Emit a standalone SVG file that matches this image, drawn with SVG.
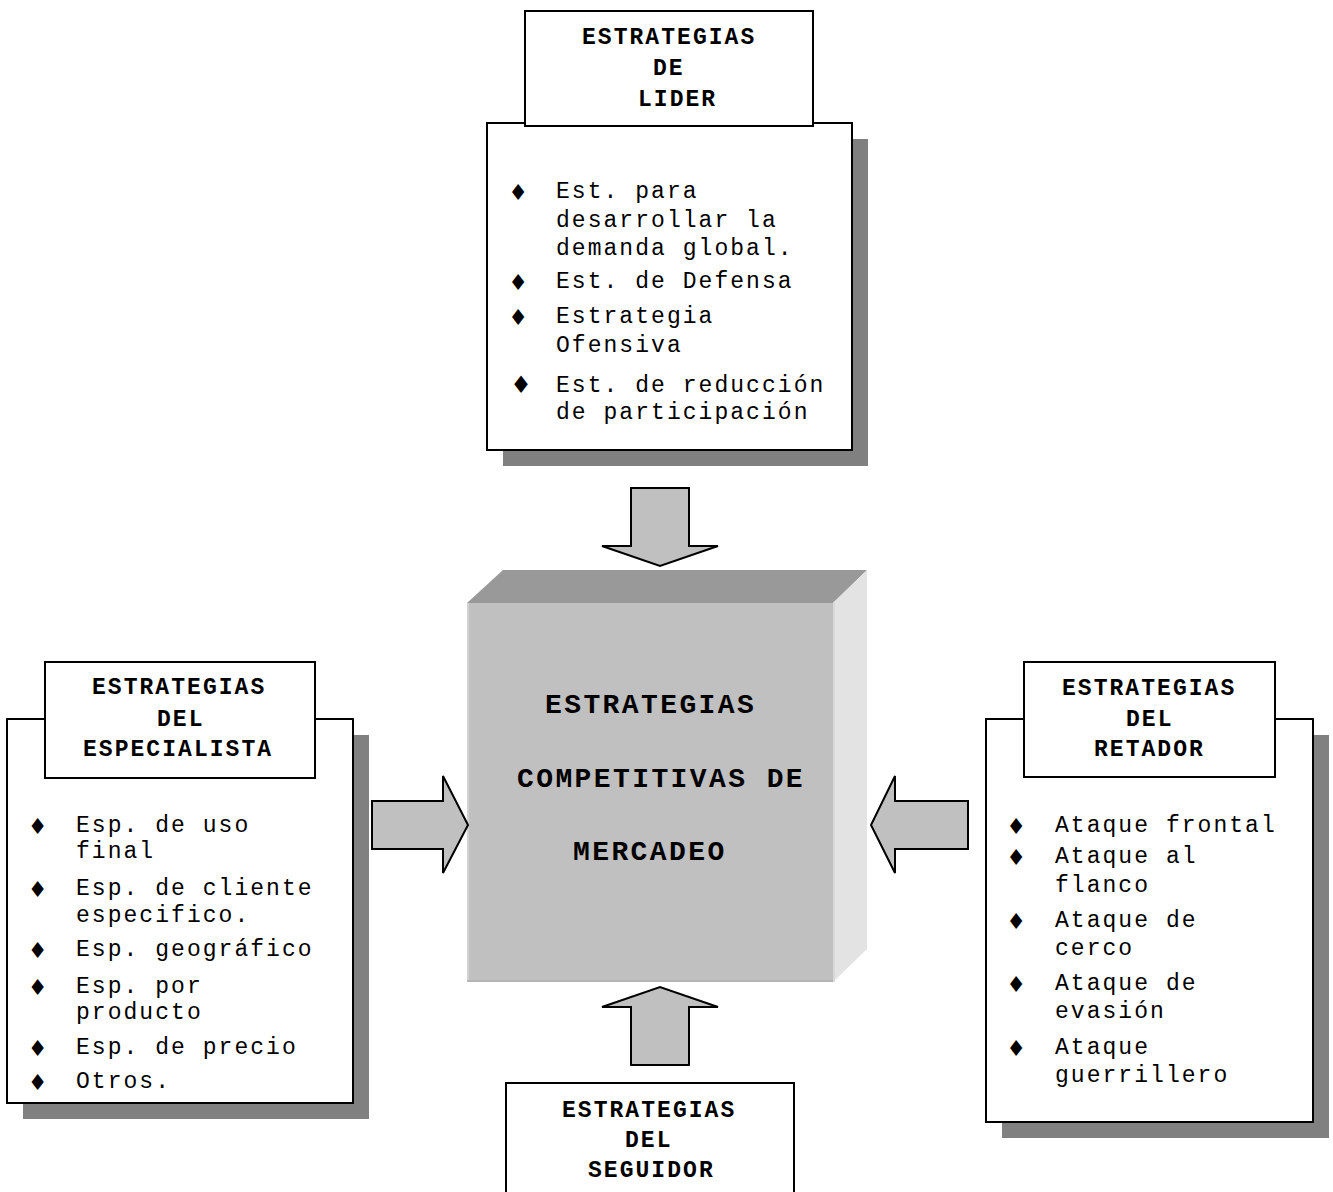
<svg xmlns="http://www.w3.org/2000/svg" width="1333" height="1192" viewBox="0 0 1333 1192">
<style>
.box{fill:#ffffff;stroke:#000000;stroke-width:2}
.shadow{fill:#808080}
.ttl{font-family:"Liberation Mono","Courier New",monospace;font-weight:bold;font-size:23px;letter-spacing:2.04px;fill:#000}
.txt{font-family:"Liberation Mono","Courier New",monospace;font-size:23px;letter-spacing:2.04px;fill:#000}
.big{font-family:"Liberation Mono","Courier New",monospace;font-weight:bold;font-size:28px;letter-spacing:2.4px;fill:#000}
.bul{font-family:"DejaVu Sans",sans-serif;font-size:22px;fill:#000;text-anchor:middle}
.arrow{fill:#c0c0c0;stroke:#000000;stroke-width:2;stroke-linejoin:miter}
</style>
<rect width="1333" height="1192" fill="#ffffff"/>

<g id="lider">
  <rect class="shadow" x="503" y="139" width="365" height="327"/>
  <rect class="box" x="487" y="123" width="365" height="327"/>
  <rect class="box" x="525" y="11" width="288" height="115"/>
  <text class="ttl" x="582" y="44">ESTRATEGIAS</text>
  <text class="ttl" x="653" y="75">DE</text>
  <text class="ttl" x="638" y="106">LIDER</text>
  <text class="bul" x="518" y="200">♦</text>
  <text class="txt" x="556" y="198">Est. para</text>
  <text class="txt" x="556" y="227">desarrollar la</text>
  <text class="txt" x="556" y="255">demanda global.</text>
  <text class="bul" x="518" y="290">♦</text>
  <text class="txt" x="556" y="288">Est. de Defensa</text>
  <text class="bul" x="518" y="325">♦</text>
  <text class="txt" x="556" y="323">Estrategia</text>
  <text class="txt" x="556" y="352">Ofensiva</text>
  <text class="bul" x="521" y="393" style="font-size:24px">♦</text>
  <text class="txt" x="556" y="392">Est. de reducción</text>
  <text class="txt" x="556" y="419">de participación</text>
</g>

<g id="especialista">
  <rect class="shadow" x="23" y="735" width="346" height="384"/>
  <rect class="box" x="7" y="719" width="346" height="384"/>
  <rect class="box" x="45" y="662" width="270" height="116"/>
  <text class="ttl" x="92" y="694">ESTRATEGIAS</text>
  <text class="ttl" x="157" y="726">DEL</text>
  <text class="ttl" x="83" y="756">ESPECIALISTA</text>
  <text class="bul" x="37.5" y="834">♦</text>
  <text class="txt" x="76" y="832">Esp. de uso</text>
  <text class="txt" x="76" y="858">final</text>
  <text class="bul" x="37.5" y="897">♦</text>
  <text class="txt" x="76" y="895">Esp. de cliente</text>
  <text class="txt" x="76" y="922">especifico.</text>
  <text class="bul" x="37.5" y="958">♦</text>
  <text class="txt" x="76" y="956">Esp. geográfico</text>
  <text class="bul" x="37.5" y="995">♦</text>
  <text class="txt" x="76" y="993">Esp. por</text>
  <text class="txt" x="76" y="1019">producto</text>
  <text class="bul" x="37.5" y="1056">♦</text>
  <text class="txt" x="76" y="1054">Esp. de precio</text>
  <text class="bul" x="37.5" y="1090">♦</text>
  <text class="txt" x="76" y="1088">Otros.</text>
</g>

<g id="retador">
  <rect class="shadow" x="1002" y="735" width="327" height="403"/>
  <rect class="box" x="986" y="719" width="327" height="403"/>
  <rect class="box" x="1024" y="662" width="251" height="115"/>
  <text class="ttl" x="1062" y="695">ESTRATEGIAS</text>
  <text class="ttl" x="1126" y="726">DEL</text>
  <text class="ttl" x="1094" y="756">RETADOR</text>
  <text class="bul" x="1016" y="834">♦</text>
  <text class="txt" x="1055" y="832">Ataque frontal</text>
  <text class="bul" x="1016" y="865">♦</text>
  <text class="txt" x="1055" y="863">Ataque al</text>
  <text class="txt" x="1055" y="892">flanco</text>
  <text class="bul" x="1016" y="929">♦</text>
  <text class="txt" x="1055" y="927">Ataque de</text>
  <text class="txt" x="1055" y="955">cerco</text>
  <text class="bul" x="1016" y="992">♦</text>
  <text class="txt" x="1055" y="990">Ataque de</text>
  <text class="txt" x="1055" y="1018">evasión</text>
  <text class="bul" x="1016" y="1056">♦</text>
  <text class="txt" x="1055" y="1054">Ataque</text>
  <text class="txt" x="1055" y="1082">guerrillero</text>
</g>

<g id="seguidor">
  <rect class="box" x="506" y="1083" width="288" height="130"/>
  <text class="ttl" x="562" y="1117">ESTRATEGIAS</text>
  <text class="ttl" x="625" y="1147">DEL</text>
  <text class="ttl" x="588" y="1177">SEGUIDOR</text>
</g>

<g id="centro">
  <polygon points="467,603 503,570 867,570 833,603" fill="#999999"/>
  <polygon points="833,603 867,570 867,949 833,982" fill="#e3e3e3"/>
  <rect x="467" y="603" width="366" height="379" fill="#c0c0c0"/>
  <line x1="468" y1="603" x2="468" y2="982" stroke="#d2d2d2" stroke-width="2"/>
  <line x1="467" y1="981" x2="833" y2="981" stroke="#b4b4b4" stroke-width="2"/>
  <line x1="834" y1="603" x2="834" y2="982" stroke="#d8d8d8" stroke-width="2"/>
  <text class="big" x="545" y="713">ESTRATEGIAS</text>
  <text class="big" x="517" y="787">COMPETITIVAS DE</text>
  <text class="big" x="573" y="860">MERCADEO</text>
</g>

<g id="conectores">
  <polygon class="arrow" points="631,488 689,488 689,546 718,546 660,566 602,546 631,546"/>
  <polygon class="arrow" points="631,1065 689,1065 689,1007 718,1007 660,987 602,1007 631,1007"/>
  <polygon class="arrow" points="372,801 443,801 443,776 468,825 443,873 443,849 372,849"/>
  <polygon class="arrow" points="968,801 895,801 895,776 871,825 895,873 895,849 968,849"/>
</g>
</svg>
